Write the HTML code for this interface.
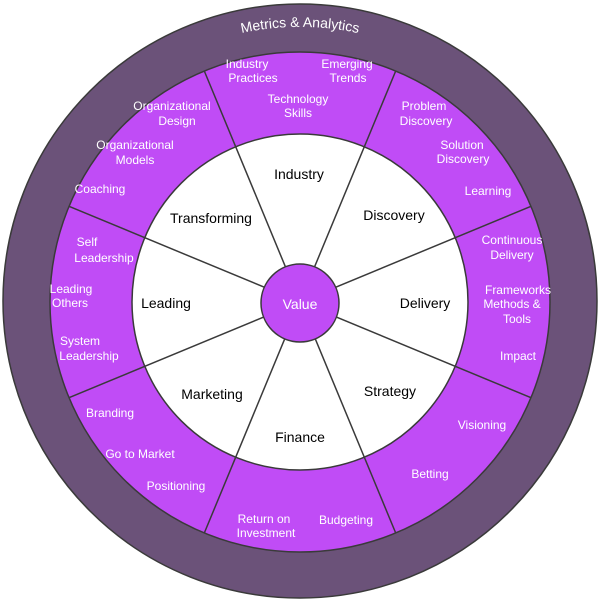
<!DOCTYPE html>
<html><head><style>
body{margin:0;background:#fff;}
svg{display:block;}
text{font-family:"Liberation Sans",sans-serif;}
.w{fill:#fff;font-size:12px;text-anchor:middle;}
.b{fill:#000;font-size:14px;text-anchor:middle;}
</style></head><body>
<svg width="600" height="600" viewBox="0 0 600 600">
<defs>
<path id="arc" d="M 171 59 A 275 275 0 0 1 429 59"/>
</defs>
<circle cx="300" cy="301" r="297" fill="#6b5279" stroke="#3a3a3a" stroke-width="1.5"/>
<circle cx="300" cy="302" r="250" fill="#c04cf6" stroke="#3a3a3a" stroke-width="1.5"/>
<circle cx="300" cy="302" r="168" fill="#fff" stroke="#3a3a3a" stroke-width="1.5"/>
<g stroke="#3a3a3a" stroke-width="1.5">
<line x1="395.7" y1="71" x2="204.3" y2="533"/>
<line x1="204.3" y1="71" x2="395.7" y2="533"/>
<line x1="69" y1="206.3" x2="531" y2="397.7"/>
<line x1="531" y1="206.3" x2="69" y2="397.7"/>
</g>
<circle cx="300" cy="303" r="39" fill="#c04cf6" stroke="#3a3a3a" stroke-width="1.5"/>
<text x="300" y="309" class="w" style="font-size:14px">Value</text>
<text fill="#fff" font-size="14"><textPath href="#arc" startOffset="50%" text-anchor="middle">Metrics &amp; Analytics</textPath></text>
<g class="b">
<text x="299" y="179" class="b">Industry</text>
<text x="394" y="220" class="b">Discovery</text>
<text x="425" y="308" class="b">Delivery</text>
<text x="390" y="396" class="b">Strategy</text>
<text x="300" y="442" class="b">Finance</text>
<text x="212" y="399" class="b">Marketing</text>
<text x="166" y="308" class="b">Leading</text>
<text x="211" y="223" class="b">Transforming</text>
</g>
<text x="247" y="68" class="w">Industry</text><text x="253" y="82" class="w">Practices</text>
<text x="347" y="68" class="w">Emerging</text><text x="348" y="82" class="w">Trends</text>
<text x="298" y="103" class="w">Technology</text><text x="298" y="117" class="w">Skills</text>
<text x="424" y="110" class="w">Problem</text><text x="426" y="125" class="w">Discovery</text>
<text x="462" y="149" class="w">Solution</text><text x="463" y="163" class="w">Discovery</text>
<text x="488" y="195" class="w">Learning</text>
<text x="512" y="244" class="w">Continuous</text><text x="512" y="259" class="w">Delivery</text>
<text x="518" y="294" class="w">Frameworks</text><text x="512" y="308" class="w">Methods &amp;</text><text x="517" y="323" class="w">Tools</text>
<text x="518" y="360" class="w">Impact</text>
<text x="482" y="429" class="w">Visioning</text>
<text x="430" y="478" class="w">Betting</text>
<text x="346" y="524" class="w">Budgeting</text>
<text x="264" y="523" class="w">Return on</text><text x="266" y="537" class="w">Investment</text>
<text x="176" y="490" class="w">Positioning</text>
<text x="140" y="458" class="w">Go to Market</text>
<text x="110" y="417" class="w">Branding</text>
<text x="87" y="246" class="w">Self</text><text x="104" y="262" class="w">Leadership</text>
<text x="71" y="293" class="w">Leading</text><text x="70" y="307" class="w">Others</text>
<text x="80" y="345" class="w">System</text><text x="89" y="360" class="w">Leadership</text>
<text x="172" y="110" class="w">Organizational</text><text x="177" y="125" class="w">Design</text>
<text x="135" y="149" class="w">Organizational</text><text x="135" y="164" class="w">Models</text>
<text x="100" y="193" class="w">Coaching</text>
</svg>
</body></html>
